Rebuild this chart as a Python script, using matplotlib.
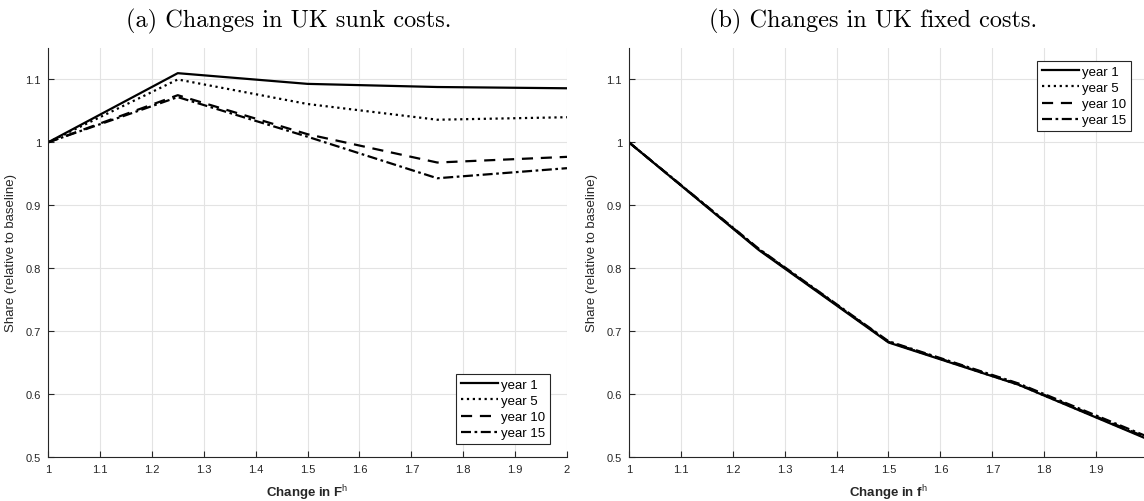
import matplotlib
matplotlib.use('Agg')
import matplotlib.pyplot as plt

# --- data ---
change = [1.0, 1.25, 1.5, 1.75, 2.0]
labels = ['year 1', 'year 5', 'year 10', 'year 15']

# (a) sunk costs
sunk_y1  = [1.0, 1.110, 1.093, 1.088, 1.086]
sunk_y5  = [1.0, 1.100, 1.061, 1.036, 1.040]
sunk_y10 = [1.0, 1.075, 1.013, 0.968, 0.977]
sunk_y15 = [1.0, 1.072, 1.009, 0.943, 0.959]

# (b) fixed costs
fixed_y1  = [1.0, 0.829, 0.682, 0.615, 0.528]
fixed_y5  = [1.0, 0.830, 0.683, 0.615, 0.529]
fixed_y10 = [1.0, 0.830, 0.683, 0.616, 0.530]
fixed_y15 = [1.0, 0.831, 0.684, 0.617, 0.532]

xticks = [1, 1.1, 1.2, 1.3, 1.4, 1.5, 1.6, 1.7, 1.8, 1.9, 2]
yticks = [0.5, 0.6, 0.7, 0.8, 0.9, 1.0, 1.1]

STYLES = ['-', ':', (0, (5, 3.5)), (0, (4.5, 1.6, 1.2, 1.6))]
AXC = '#262626'

plt.rcParams['font.family'] = ['Liberation Sans', 'DejaVu Sans']
plt.rcParams['mathtext.fontset'] = 'custom'
plt.rcParams['mathtext.rm'] = 'Liberation Sans'
plt.rcParams['mathtext.bf'] = 'Liberation Sans'

W, H = 1144, 502
fig = plt.figure(figsize=(W / 100, H / 100), dpi=100)


def setup(ax, xlabel, last_label=True):
    ax.set_xlim(1, 2)
    ax.set_ylim(0.5, 1.15)
    ax.set_xticks(xticks)
    xl = ['%g' % v for v in xticks]
    if not last_label:
        xl[-1] = ''   # falls off the right edge in the reference
    ax.set_xticklabels(xl)
    ax.set_yticks(yticks)
    ax.set_yticklabels(['%g' % v for v in yticks])
    ax.grid(True, color='#e3e3e3', linewidth=0.8)
    ax.set_axisbelow(True)
    for s in ['top', 'right']:
        ax.spines[s].set_visible(False)
    for s in ['left', 'bottom']:
        ax.spines[s].set_color(AXC)
        ax.spines[s].set_linewidth(0.8)
    ax.tick_params(direction='in', length=4, width=0.8, color=AXC,
                   labelcolor=AXC, labelsize=8, pad=5)
    ax.set_xlabel(xlabel, fontsize=9.5, fontweight='bold', color=AXC)
    ax.xaxis.set_label_coords(0.5, -0.062)
    ax.set_ylabel('Share (relative to baseline)', fontsize=9.5, color=AXC)
    ax.yaxis.set_label_coords(-0.06, 0.5)


# axes placed in pixel coords of the reference
bottom = (H - 458) / H
height = 409 / H
width = 519 / W

ax1 = fig.add_axes([48 / W, bottom, width, height])
for ys, ls, lab in zip([sunk_y1, sunk_y5, sunk_y10, sunk_y15], STYLES, labels):
    ax1.plot(change, ys, color='black', linestyle=ls, linewidth=1.6, label=lab)
setup(ax1, r'Change in F$^{\rm h}$')

ax2 = fig.add_axes([629 / W, bottom, width, height])
for ys, ls, lab in zip([fixed_y1, fixed_y5, fixed_y10, fixed_y15], STYLES, labels):
    ax2.plot(change, ys, color='black', linestyle=ls, linewidth=1.6, label=lab)
setup(ax2, r'Change in f$^{\rm h}$', last_label=False)

leg_kw = dict(fontsize=9.5, handlelength=2.8, handletextpad=0.25, labelspacing=0.3,
              borderpad=0.35, borderaxespad=0, fancybox=False, framealpha=1)
l1 = ax1.legend(loc='lower right', bbox_to_anchor=(550 / W, (H - 445) / H),
                bbox_transform=fig.transFigure, **leg_kw)
l2 = ax2.legend(loc='upper right', bbox_to_anchor=(1131 / W, (H - 62) / H),
                bbox_transform=fig.transFigure, **leg_kw)
for lg in (l1, l2):
    lg.get_frame().set_edgecolor(AXC)
    lg.get_frame().set_linewidth(0.8)

fig.text(289 / W, 1 - 21 / H, '(a) Changes in UK sunk costs.', family='cmr10',
         fontsize=17.5, ha='center', va='center')
fig.text(873 / W, 1 - 21 / H, '(b) Changes in UK fixed costs.', family='cmr10',
         fontsize=17.5, ha='center', va='center')

fig.savefig('out.png', dpi=100)
